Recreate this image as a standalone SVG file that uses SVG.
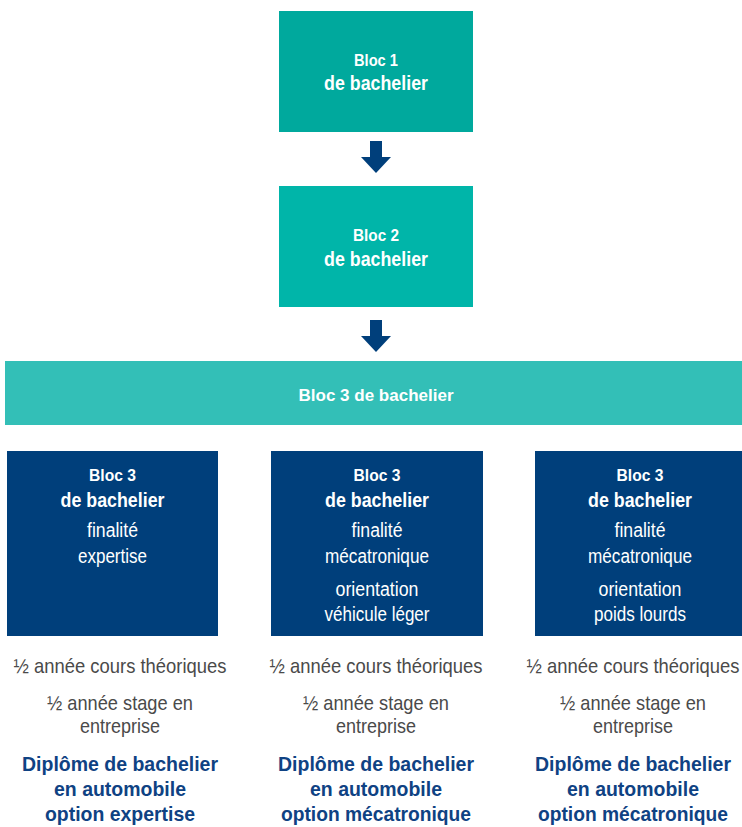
<svg xmlns="http://www.w3.org/2000/svg" width="742" height="827" viewBox="0 0 742 827">
<style>
text{font-family:"Liberation Sans",Arial,sans-serif;text-anchor:middle}
.w{fill:#ffffff}
.b{font-weight:bold}
.s{font-size:17px}
.m{font-size:20px}
.g{fill:#4a4a4a;font-size:21px}
.d{fill:#0f4283;font-size:21px;font-weight:bold}
.dark{fill:#003f7b}
</style>
<defs>
<path id="arr" d="M-6,0 H6 V16 H15 L0,32 L-15,16 H-6 Z" fill="#003f7b"/>
</defs>
<rect width="742" height="827" fill="#ffffff"/>
<g id="bloc1">
<rect x="279" y="11" width="194" height="121" fill="#00a99d"/>
<text class="w b s" x="376" y="66" textLength="44" lengthAdjust="spacingAndGlyphs">Bloc 1</text>
<text class="w b m" x="376" y="90" textLength="104" lengthAdjust="spacingAndGlyphs">de bachelier</text>
</g>
<g id="bloc2">
<rect x="279" y="186" width="194" height="121" fill="#00b5a9"/>
<text class="w b s" x="376" y="241" textLength="46" lengthAdjust="spacingAndGlyphs">Bloc 2</text>
<text class="w b m" x="376" y="266" textLength="104" lengthAdjust="spacingAndGlyphs">de bachelier</text>
</g>
<g id="bloc3">
<rect x="5" y="361" width="737" height="64" fill="#33bfb7"/>
<text class="w b s" x="376" y="401" textLength="155" lengthAdjust="spacingAndGlyphs">Bloc 3 de bachelier</text>
</g>
<g id="connectors">
<use href="#arr" x="376" y="141"/>
<use href="#arr" x="376" y="320"/>
</g>
<g id="expertise">
<rect class="dark" x="7" y="451" width="211" height="185"/>
<text class="w b s" x="112.5" y="481" textLength="47" lengthAdjust="spacingAndGlyphs">Bloc 3</text>
<text class="w b m" x="112.5" y="507" textLength="104" lengthAdjust="spacingAndGlyphs">de bachelier</text>
<text class="w m" x="112.5" y="537" textLength="51" lengthAdjust="spacingAndGlyphs">finalité</text>
<text class="w m" x="112.5" y="563" textLength="69" lengthAdjust="spacingAndGlyphs">expertise</text>
<text class="g" x="120" y="673" textLength="213" lengthAdjust="spacingAndGlyphs">½ année cours théoriques</text>
<text class="g" x="120" y="710" textLength="146" lengthAdjust="spacingAndGlyphs">½ année stage en</text>
<text class="g" x="120" y="733" textLength="80" lengthAdjust="spacingAndGlyphs">entreprise</text>
<text class="d" x="120" y="771" textLength="196" lengthAdjust="spacingAndGlyphs">Diplôme de bachelier</text>
<text class="d" x="120" y="796" textLength="132" lengthAdjust="spacingAndGlyphs">en automobile</text>
<text class="d" x="120" y="821" textLength="150" lengthAdjust="spacingAndGlyphs">option expertise</text>
</g>
<g id="vehicule-leger">
<rect class="dark" x="271" y="451" width="212" height="185"/>
<text class="w b s" x="377" y="481" textLength="47" lengthAdjust="spacingAndGlyphs">Bloc 3</text>
<text class="w b m" x="377" y="507" textLength="104" lengthAdjust="spacingAndGlyphs">de bachelier</text>
<text class="w m" x="377" y="537" textLength="51" lengthAdjust="spacingAndGlyphs">finalité</text>
<text class="w m" x="377" y="563" textLength="104" lengthAdjust="spacingAndGlyphs">mécatronique</text>
<text class="w m" x="377" y="596" textLength="83" lengthAdjust="spacingAndGlyphs">orientation</text>
<text class="w m" x="377" y="621" textLength="105" lengthAdjust="spacingAndGlyphs">véhicule léger</text>
<text class="g" x="376" y="673" textLength="213" lengthAdjust="spacingAndGlyphs">½ année cours théoriques</text>
<text class="g" x="376" y="710" textLength="146" lengthAdjust="spacingAndGlyphs">½ année stage en</text>
<text class="g" x="376" y="733" textLength="80" lengthAdjust="spacingAndGlyphs">entreprise</text>
<text class="d" x="376" y="771" textLength="196" lengthAdjust="spacingAndGlyphs">Diplôme de bachelier</text>
<text class="d" x="376" y="796" textLength="132" lengthAdjust="spacingAndGlyphs">en automobile</text>
<text class="d" x="376" y="821" textLength="190" lengthAdjust="spacingAndGlyphs">option mécatronique</text>
</g>
<g id="poids-lourds">
<rect class="dark" x="535" y="451" width="207" height="185"/>
<text class="w b s" x="640" y="481" textLength="47" lengthAdjust="spacingAndGlyphs">Bloc 3</text>
<text class="w b m" x="640" y="507" textLength="104" lengthAdjust="spacingAndGlyphs">de bachelier</text>
<text class="w m" x="640" y="537" textLength="51" lengthAdjust="spacingAndGlyphs">finalité</text>
<text class="w m" x="640" y="563" textLength="104" lengthAdjust="spacingAndGlyphs">mécatronique</text>
<text class="w m" x="640" y="596" textLength="83" lengthAdjust="spacingAndGlyphs">orientation</text>
<text class="w m" x="640" y="621" textLength="92" lengthAdjust="spacingAndGlyphs">poids lourds</text>
<text class="g" x="633" y="673" textLength="213" lengthAdjust="spacingAndGlyphs">½ année cours théoriques</text>
<text class="g" x="633" y="710" textLength="146" lengthAdjust="spacingAndGlyphs">½ année stage en</text>
<text class="g" x="633" y="733" textLength="80" lengthAdjust="spacingAndGlyphs">entreprise</text>
<text class="d" x="633" y="771" textLength="196" lengthAdjust="spacingAndGlyphs">Diplôme de bachelier</text>
<text class="d" x="633" y="796" textLength="132" lengthAdjust="spacingAndGlyphs">en automobile</text>
<text class="d" x="633" y="821" textLength="190" lengthAdjust="spacingAndGlyphs">option mécatronique</text>
</g>
</svg>
